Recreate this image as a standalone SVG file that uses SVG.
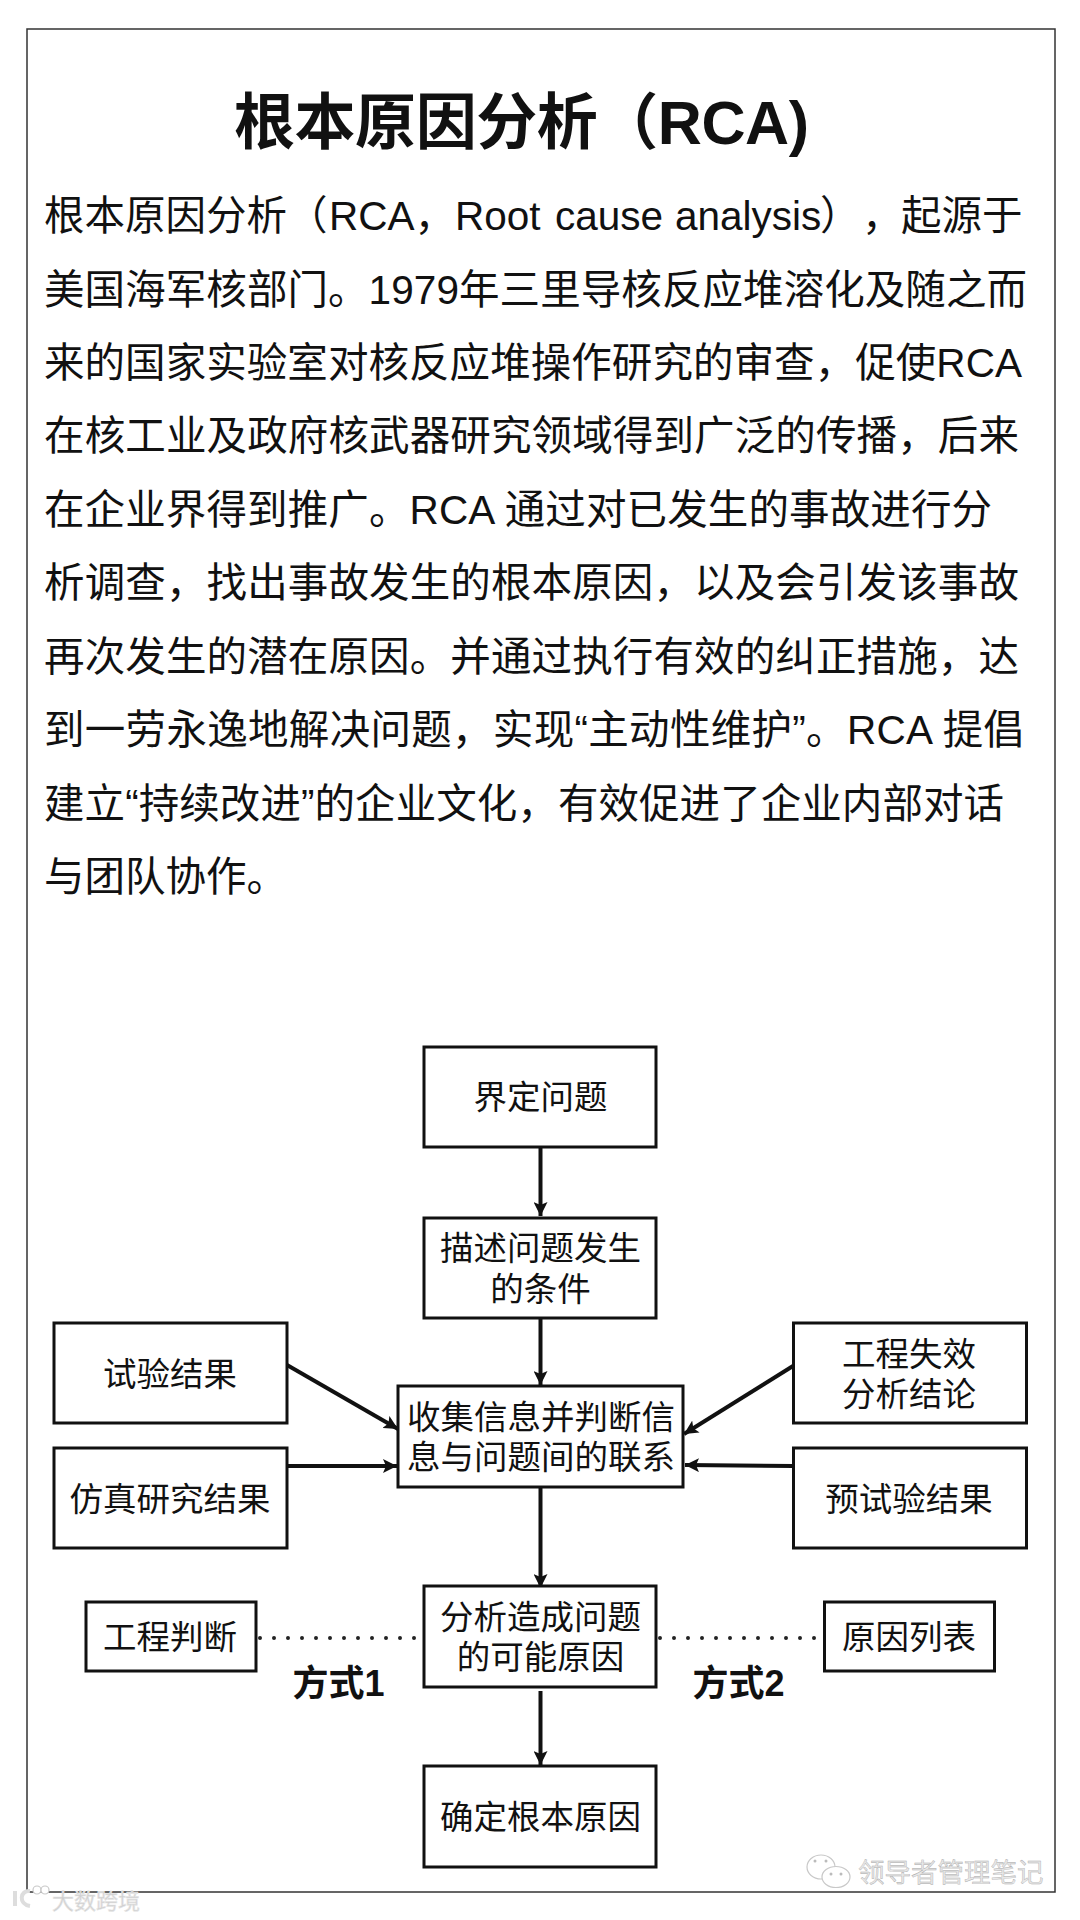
<svg xmlns="http://www.w3.org/2000/svg" width="1080" height="1920" viewBox="0 0 1080 1920">
<style>
text{font-family:"Liberation Sans","Noto Sans CJK SC",sans-serif;fill:#111}
.b{font-size:40.5px}
.n{font-size:33.5px;text-anchor:middle}
.m{font-size:36px;font-weight:700;text-anchor:middle}
.box{fill:#fff;stroke:#111;stroke-width:3}
.c{fill:none;stroke:#111;stroke-width:4}
.d{fill:none;stroke:#222;stroke-width:4;stroke-linecap:round;stroke-dasharray:0 14}
.w{fill:#fff;stroke:#c8c8c8;stroke-width:1.2}
.l{fill:none;stroke:#ddd;stroke-width:4}
</style>
<defs><marker id="a" markerUnits="userSpaceOnUse" markerWidth="16" markerHeight="14" refX="14" refY="7" orient="auto"><path d="M0 0L14 7L0 14L3 7z" fill="#111"/></marker></defs>
<rect width="1080" height="1920" fill="#fff"/>
<rect x="27" y="29" width="1028" height="1863" fill="none" stroke="#333" stroke-width="1.5"/>
<g id="article">
<text x="234" y="144" textLength="575" lengthAdjust="spacing" style="font-size:61px;font-weight:700">根本原因分析（RCA)</text>
<text class="b" x="44" y="230">根本原因分析（<tspan x="329">RCA，</tspan><tspan x="455">Root</tspan> <tspan x="555">cause</tspan> <tspan x="675">analysis</tspan><tspan x="820">）</tspan><tspan x="862">，</tspan><tspan x="901">起源于</tspan></text>
<text class="b" x="44" y="304" textLength="983">美国海军核部门。1979年三里导核反应堆溶化及随之而</text>
<text class="b" x="44" y="377" textLength="978">来的国家实验室对核反应堆操作研究的审查，促使RCA</text>
<text class="b" x="44" y="450" textLength="975">在核工业及政府核武器研究领域得到广泛的传播，后来</text>
<text class="b" x="44" y="524" textLength="948">在企业界得到推广。RCA 通过对已发生的事故进行分</text>
<text class="b" x="44" y="597" textLength="975">析调查，找出事故发生的根本原因，以及会引发该事故</text>
<text class="b" x="44" y="671" textLength="975">再次发生的潜在原因。并通过执行有效的纠正措施，达</text>
<text class="b" x="44" y="744" textLength="980">到一劳永逸地解决问题，实现“主动性维护”。RCA 提倡</text>
<text class="b" x="44" y="818" textLength="960">建立“持续改进”的企业文化，有效促进了企业内部对话</text>
<text class="b" x="44" y="891">与团队协作。</text>
</g>
<g id="connectors">
<line class="c" x1="540.5" y1="1146" x2="540.5" y2="1216" marker-end="url(#a)"/>
<line class="c" x1="540.5" y1="1319" x2="540.5" y2="1385" marker-end="url(#a)"/>
<line class="c" x1="540.5" y1="1488" x2="540.5" y2="1588" marker-end="url(#a)"/>
<line class="c" x1="540.5" y1="1691" x2="540.5" y2="1765" marker-end="url(#a)"/>
<line class="c" x1="287" y1="1365" x2="398" y2="1429" marker-end="url(#a)"/>
<line class="c" x1="287" y1="1466" x2="397" y2="1466" marker-end="url(#a)"/>
<line class="c" x1="793" y1="1366" x2="684" y2="1434" marker-end="url(#a)"/>
<line class="c" x1="793" y1="1466" x2="685" y2="1465" marker-end="url(#a)"/>
<line class="d" x1="260" y1="1638" x2="423" y2="1638"/>
<line class="d" x1="660" y1="1638" x2="823" y2="1638"/>
</g>
<g id="n1"><rect class="box" x="424" y="1047" width="232" height="100"/><text class="n" x="540.5" y="1109">界定问题</text></g>
<g id="n2"><rect class="box" x="424" y="1218" width="232" height="100"/><text class="n" x="540.5" y="1260">描述问题发生</text><text class="n" x="540.5" y="1301">的条件</text></g>
<g id="n3"><rect class="box" x="54" y="1323" width="233" height="100"/><text class="n" x="170" y="1386">试验结果</text></g>
<g id="n4"><rect class="box" x="54" y="1448" width="233" height="100"/><text class="n" x="170" y="1511">仿真研究结果</text></g>
<g id="n5"><rect class="box" x="793.500" y="1323" width="233" height="100"/><text class="n" x="909" y="1366">工程失效</text><text class="n" x="909" y="1406">分析结论</text></g>
<g id="n6"><rect class="box" x="793.500" y="1448" width="233" height="100"/><text class="n" x="909" y="1511">预试验结果</text></g>
<g id="n7"><rect class="box" x="398" y="1386" width="285" height="101"/><text class="n" x="541" y="1429">收集信息并判断信</text><text class="n" x="541" y="1469">息与问题间的联系</text></g>
<g id="n8"><rect class="box" x="424" y="1586" width="232" height="101"/><text class="n" x="540.5" y="1629">分析造成问题</text><text class="n" x="540.5" y="1669">的可能原因</text></g>
<g id="n9"><rect class="box" x="86" y="1602" width="170" height="69"/><text class="n" x="170" y="1649">工程判断</text></g>
<g id="n10"><rect class="box" x="824.500" y="1602" width="170" height="69"/><text class="n" x="909" y="1649">原因列表</text></g>
<g id="n11"><rect class="box" x="424" y="1766" width="232" height="101"/><text class="n" x="540.5" y="1829">确定根本原因</text></g>
<g id="labels">
<text class="m" x="338.500" y="1696">方式1</text>
<text class="m" x="738.500" y="1696">方式2</text>
</g>
<g id="watermarks">
<ellipse class="w" cx="821" cy="1867" rx="14" ry="12"/><ellipse class="w" cx="836" cy="1877" rx="14" ry="10.500"/>
<circle cx="815" cy="1861" r="1.500" fill="#bbb"/><circle cx="826" cy="1861" r="1.500" fill="#bbb"/><circle cx="831" cy="1874" r="1.500" fill="#bbb"/><circle cx="841" cy="1874" r="1.500" fill="#bbb"/>
<text x="858" y="1882" style="font-size:26.500px;fill:#e8e8e8;stroke:#aaa;stroke-width:.4">领导者管理笔记</text>
<path class="l" d="M15 1891V1906M30 1891C20 1890 18 1904 30 1906"/>
<circle class="w" cx="37" cy="1890" r="4"/><circle class="w" cx="45" cy="1890" r="4"/>
<text x="52" y="1909" style="font-size:22px;fill:#cfcfcf;stroke:#e6e6e6;stroke-width:.6">大数跨境</text>
</g>
</svg>
